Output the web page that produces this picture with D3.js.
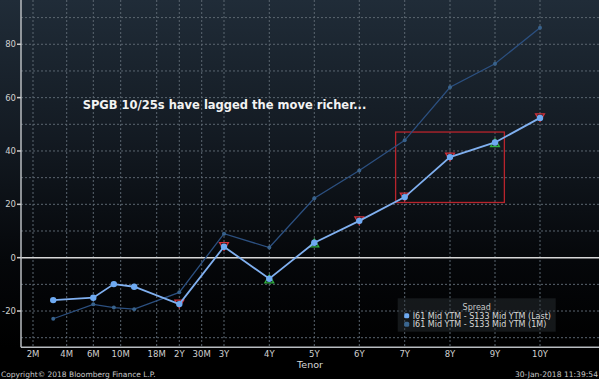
<!DOCTYPE html>
<html>
<head>
<meta charset="utf-8">
<script src="https://cdn.jsdelivr.net/npm/d3@7"></script>
<style>
  html, body { margin: 0; padding: 0; background: #000; }
  svg { display: block; }
  text { font-family: "DejaVu Sans", Verdana, sans-serif; }
</style>
</head>
<body>
<div id="chart"></div>
<script>
// tenor axis (months) and its labels
const tickMonths = [2, 4, 6, 10, 18, 24, 30, 36, 48, 60, 72, 84, 96, 108, 120];
const tickLabels = ["2M", "4M", "6M", "10M", "18M", "2Y", "30M", "3Y", "4Y", "5Y", "6Y", "7Y", "8Y", "9Y", "10Y"];

// bond tenors (months) and spreads (bp)
const pointMonths = [3.2, 6, 9, 13, 24, 36, 48, 60, 72, 84, 96, 108, 120];
const spreadLast = [-15.9, -15.0, -9.9, -10.9, -17.4, 4.1, -7.9, 5.6, 13.8, 22.7, 37.7, 43.2, 52.4];
const spread1M   = [-22.9, -17.5, -18.7, -19.3, -13.0, 9.0, 3.8, 22.3, 32.7, 44.0, 63.9, 72.7, 86.2];
// signal per point: "rich" (red down), "cheap" (green up), "" none
const signals = ["", "", "", "", "rich", "rich", "cheap", "cheap", "rich", "rich", "rich", "cheap", "rich"];

const yTicks = [-20, 0, 20, 40, 60, 80];
const yGrid = [-30, -20, -10, 0, 10, 20, 30, 40, 50, 60, 70, 80, 90];

// highlight box (months, bp) and note
const boxMonths = [81.6, 110.5];
const boxValues = [20.7, 47.1];
const note = "SPGB 10/25s have lagged the move richer...";

const seriesNames = ["I61 Mid YTM - S133 Mid YTM (Last)", "I61 Mid YTM - S133 Mid YTM (1M)"];

const width = 599, height = 379;
const left = 21, bottom = 347.3;
// tenor axis is piecewise: positions of each tick along the axis
const tickX = [33, 66.7, 93.3, 120.7, 156.7, 179.3, 201.7, 224, 269.3, 314.3, 359.3, 404.7, 450, 495, 540];

const x = d3.scaleLinear().domain(tickMonths).range(tickX);
const y = d3.scaleLinear().domain([-33.6, 96.6]).range([bottom, 0]);

const svg = d3.select("#chart").append("svg")
    .attr("width", width)
    .attr("height", height);

// background gradient
const defs = svg.append("defs");
const grad = defs.append("linearGradient")
    .attr("id", "bg")
    .attr("x1", 0).attr("y1", 0).attr("x2", 0).attr("y2", 1);
grad.append("stop").attr("offset", "0%").attr("stop-color", "#202c38");
grad.append("stop").attr("offset", "40%").attr("stop-color", "#131a22");
grad.append("stop").attr("offset", "75%").attr("stop-color", "#05070a");
grad.append("stop").attr("offset", "100%").attr("stop-color", "#000000");

svg.append("rect")
    .attr("width", width)
    .attr("height", height)
    .attr("fill", "#000");
svg.append("rect")
    .attr("x", 0).attr("y", 0)
    .attr("width", width)
    .attr("height", bottom)
    .attr("fill", "url(#bg)");

// grid
const grid = svg.append("g")
    .style("stroke", "#5b6670")
    .style("stroke-width", 1)
    .style("stroke-dasharray", "2,2");

grid.selectAll("line.v")
    .data(tickMonths)
    .enter().append("line")
    .attr("x1", d => x(d)).attr("x2", d => x(d))
    .attr("y1", 0).attr("y2", bottom);

grid.selectAll("line.h")
    .data(yGrid.filter(d => d !== 0))
    .enter().append("line")
    .attr("x1", left).attr("x2", width)
    .attr("y1", d => y(d)).attr("y2", d => y(d));

// zero line
svg.append("line")
    .attr("x1", left).attr("x2", width)
    .attr("y1", y(0)).attr("y2", y(0))
    .style("stroke", "#d8d8d8")
    .style("stroke-width", 1.5);

// axes frame
svg.append("line")
    .attr("x1", left).attr("x2", left)
    .attr("y1", 0).attr("y2", bottom)
    .style("stroke", "#b8bcc0").style("stroke-width", 1.5);
svg.append("line")
    .attr("x1", left).attr("x2", width)
    .attr("y1", bottom).attr("y2", bottom)
    .style("stroke", "#b8bcc0").style("stroke-width", 1.5);

// y ticks
const yAxis = svg.append("g");
yAxis.selectAll("line")
    .data(yTicks)
    .enter().append("line")
    .attr("x1", left - 4).attr("x2", left)
    .attr("y1", d => y(d)).attr("y2", d => y(d))
    .style("stroke", "#d0d0d0").style("stroke-width", 1.5);
yAxis.selectAll("text")
    .data(yTicks)
    .enter().append("text")
    .attr("x", left - 5)
    .attr("y", d => y(d))
    .attr("dy", "0.35em")
    .attr("text-anchor", "end")
    .style("font-size", "8.5px")
    .style("fill", "#d0d0d0")
    .text(d => d);

// x tick labels
svg.append("g").selectAll("text")
    .data(tickMonths)
    .enter().append("text")
    .attr("x", d => x(d))
    .attr("y", 356.5)
    .attr("text-anchor", "middle")
    .style("font-size", "8.5px")
    .style("fill", "#d0d0d0")
    .text((d, i) => tickLabels[i]);

svg.append("text")
    .attr("x", 310).attr("y", 367.5)
    .attr("text-anchor", "middle")
    .style("font-size", "9.5px")
    .style("fill", "#d8d8d8")
    .text("Tenor");

svg.append("text")
    .attr("x", 1).attr("y", 377)
    .style("font-size", "7.5px")
    .style("fill", "#c8c8c8")
    .text("Copyright\u00a9 2018 Bloomberg Finance L.P.");

svg.append("text")
    .attr("x", 598).attr("y", 377)
    .attr("text-anchor", "end")
    .style("font-size", "7.6px")
    .style("fill", "#c8c8c8")
    .text("30-Jan-2018 11:39:54");

// highlight box
svg.append("rect")
    .attr("x", x(boxMonths[0]))
    .attr("y", y(boxValues[1]))
    .attr("width", x(boxMonths[1]) - x(boxMonths[0]))
    .attr("height", y(boxValues[0]) - y(boxValues[1]))
    .style("fill", "none")
    .style("stroke", "#b8242c")
    .style("stroke-width", 1.3);

// annotation
svg.append("text")
    .attr("x", x(5.2))
    .attr("y", y(55.8))
    .style("font-size", "11.5px")
    .style("font-weight", "bold")
    .style("fill", "#f2f2f2")
    .text(note);

const line = d3.line()
    .x((d, i) => x(pointMonths[i]))
    .y(d => y(d));

// 1M series
svg.append("path")
    .datum(spread1M)
    .attr("d", line)
    .style("fill", "none")
    .style("stroke", "#2c5080")
    .style("stroke-width", 1.3);
svg.append("g").selectAll("circle")
    .data(spread1M)
    .enter().append("circle")
    .attr("cx", (d, i) => x(pointMonths[i]))
    .attr("cy", d => y(d))
    .attr("r", 2)
    .style("fill", "#38628c");

// signal triangles
const tri = d3.symbol().type(d3.symbolTriangle).size(34);
svg.append("g").selectAll("path")
    .data(spreadLast.map((v, i) => ({ m: pointMonths[i], v: v, s: signals[i] })).filter(d => d.s))
    .enter().append("path")
    .attr("d", tri)
    .attr("transform", d => d.s === "rich"
        ? `translate(${x(d.m)},${y(d.v) - 1.5}) rotate(180)`
        : `translate(${x(d.m)},${y(d.v) + 1.5})`)
    .style("fill", "none")
    .style("stroke", d => d.s === "rich" ? "#d0303a" : "#30b040")
    .style("stroke-width", 1.3);

// Last series
svg.append("path")
    .datum(spreadLast)
    .attr("d", line)
    .style("fill", "none")
    .style("stroke", "#80b0f0")
    .style("stroke-width", 1.8);
svg.append("g").selectAll("circle")
    .data(spreadLast)
    .enter().append("circle")
    .attr("cx", (d, i) => x(pointMonths[i]))
    .attr("cy", d => y(d))
    .attr("r", 3.2)
    .style("fill", "#6eaaf2");

// legend
const legend = svg.append("g");
legend.append("rect")
    .attr("x", 397.7).attr("y", 298.3)
    .attr("width", 158).attr("height", 33.4)
    .style("fill", "rgba(45,50,56,0.45)");
legend.append("text")
    .attr("x", 476.7).attr("y", 309.5)
    .attr("text-anchor", "middle")
    .style("font-size", "8px")
    .style("fill", "#c8c8c8")
    .text("Spread");
const entries = legend.selectAll("g.entry")
    .data(seriesNames)
    .enter().append("g")
    .attr("transform", (d, i) => `translate(406.7,${315.7 + i * 8.6})`);
entries.append("rect")
    .attr("x", -2.5).attr("y", -2.5)
    .attr("width", 5).attr("height", 5)
    .attr("rx", 1.5)
    .style("fill", (d, i) => i === 0 ? "#6eaaf2" : "#3a6690");
entries.append("text")
    .attr("x", 6)
    .attr("dy", "0.35em")
    .style("font-size", "8px")
    .style("fill", "#d8d8d8")
    .text(d => d);
</script>
</body>
</html>
